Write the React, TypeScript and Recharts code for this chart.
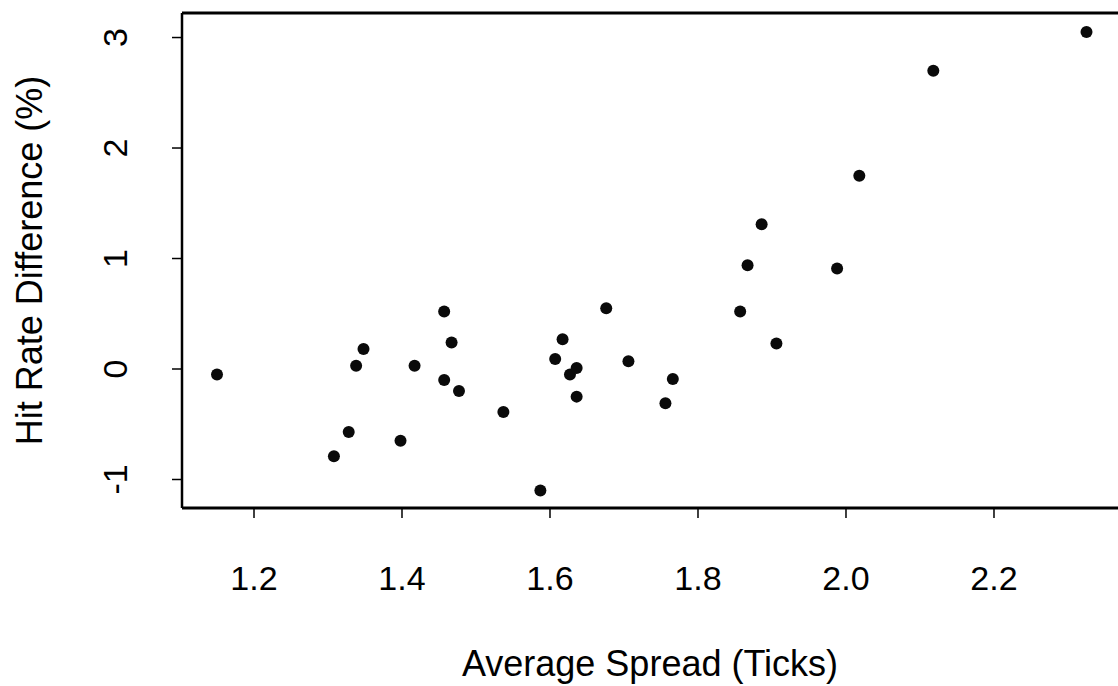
import * as React from "react";
import {
  ScatterChart,
  Scatter,
  XAxis,
  YAxis,
  ReferenceLine,
} from "recharts";

// average quoted spread (ticks) and hit rate difference (%) per instrument
const spread = [
  1.15, 1.308, 1.328, 1.338, 1.348, 1.398, 1.417, 1.457, 1.457, 1.467,
  1.477, 1.537, 1.587, 1.607, 1.617, 1.627, 1.636, 1.636, 1.676, 1.706,
  1.766, 1.756, 1.857, 1.867, 1.886, 1.906, 1.988, 2.018, 2.118, 2.325,
];
const hitDiff = [
  -0.05, -0.79, -0.57, 0.03, 0.18, -0.65, 0.03, 0.52, -0.1, 0.24,
  -0.2, -0.39, -1.1, 0.09, 0.27, -0.05, 0.01, -0.25, 0.55, 0.07,
  -0.09, -0.31, 0.52, 0.94, 1.31, 0.23, 0.91, 1.75, 2.7, 3.05,
];
const xTicks = [1.2, 1.4, 1.6, 1.8, 2.0, 2.2];
const yTicks = [-1, 0, 1, 2, 3];

const X_MIN = 1.1027;
const X_MAX = 2.3811;
const Y_MIN = -1.258;
const Y_MAX = 3.222;

const FONT = "'Liberation Sans', Arial, Helvetica, sans-serif";

const points = spread.map((x, i) => ({ x, y: hitDiff[i] }));

function XTick(props) {
  const { x, y, payload } = props;
  return (
    <text
      x={x}
      y={y + 70}
      textAnchor="middle"
      fontFamily={FONT}
      fontSize={34}
      fill="#000"
    >
      {Number(payload.value).toFixed(1)}
    </text>
  );
}

function YTick(props) {
  const { x, y, payload } = props;
  return (
    <text
      transform={`translate(${x - 43},${y}) rotate(-90)`}
      textAnchor="middle"
      fontFamily={FONT}
      fontSize={34}
      fill="#000"
    >
      {payload.value}
    </text>
  );
}

function Dot(props) {
  const { cx, cy } = props;
  return <circle cx={cx} cy={cy} r={6} fill="#0a0a0a" />;
}

export default function App() {
  return (
    <div
      style={{
        position: "absolute",
        left: 0,
        top: 0,
        width: 1118,
        height: 686,
        overflow: "hidden",
        background: "#fff",
      }}
    >
      <ScatterChart
        width={1130}
        height={686}
        margin={{ top: 13, right: 2, bottom: 0, left: 0 }}
      >
        <XAxis
          type="number"
          dataKey="x"
          domain={[X_MIN, X_MAX]}
          ticks={xTicks}
          allowDataOverflow
          height={178}
          tickSize={10}
          tick={<XTick />}
          axisLine={{ stroke: "#000", strokeWidth: 3 }}
          tickLine={{ stroke: "#000", strokeWidth: 1.5 }}
          label={(p) => (
            <text
              x={650}
              y={676}
              textAnchor="middle"
              fontFamily={FONT}
              fontSize={36}
              fill="#000"
            >
              Average Spread (Ticks)
            </text>
          )}
        />
        <YAxis
          type="number"
          dataKey="y"
          domain={[Y_MIN, Y_MAX]}
          ticks={yTicks}
          allowDataOverflow
          width={182}
          tickSize={10}
          tick={<YTick />}
          axisLine={{ stroke: "#000", strokeWidth: 2.5 }}
          tickLine={{ stroke: "#000", strokeWidth: 1.5 }}
          label={(p) => (
            <text
              transform="translate(42,260.5) rotate(-90)"
              textAnchor="middle"
              fontFamily={FONT}
              fontSize={36}
              fill="#000"
            >
              Hit Rate Difference (%)
            </text>
          )}
        />
        <ReferenceLine y={Y_MAX} stroke="#000" strokeWidth={3} />
        <Scatter data={points} shape={<Dot />} isAnimationActive={false} />
      </ScatterChart>
    </div>
  );
}
